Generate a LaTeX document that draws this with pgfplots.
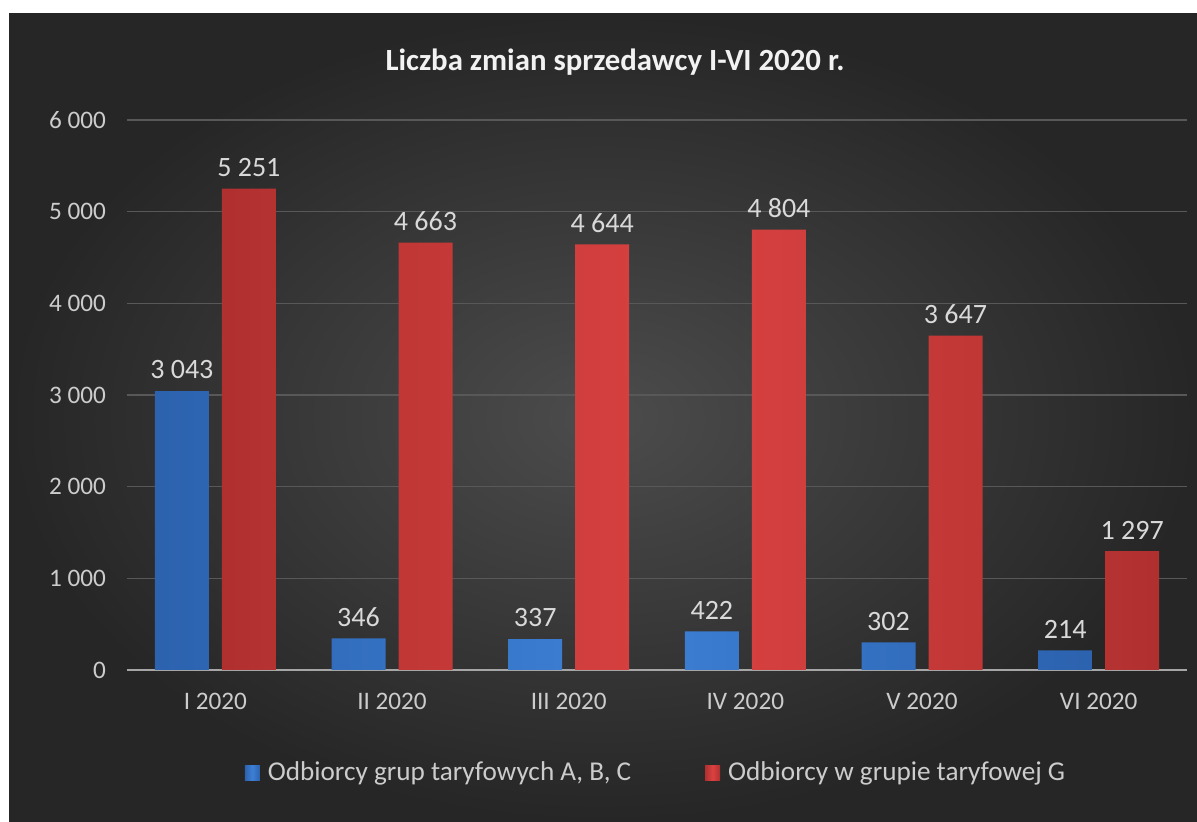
\documentclass[border=0pt]{standalone}
\usepackage{pgfplots}
\pgfplotsset{compat=1.18}
\usepackage{fontspec}
\setmainfont{Carlito}
\definecolor{bgdark}{HTML}{262626}
\definecolor{bgmid}{HTML}{4C4C4C}
\definecolor{gridcol}{HTML}{585858}
\definecolor{axcol}{HTML}{A6A6A6}
\definecolor{labelcol}{HTML}{D9D9D9}
\definecolor{ticklab}{HTML}{CCCCCC}
\definecolor{titlecol}{HTML}{F2F2F2}
\definecolor{blueedge}{HTML}{2C62AE}
\definecolor{bluemid}{HTML}{3D80D6}
\definecolor{rededge}{HTML}{B0302F}
\definecolor{redmid}{HTML}{DA4241}
\begin{document}
\begin{tikzpicture}
\useasboundingbox (0pt,0pt) rectangle (598.5pt,411pt);
\fill[white] (0pt,0pt) rectangle (598.5pt,411pt);
\shade[inner color=bgmid, outer color=bgdark] (4.5pt,0pt) rectangle (598.5pt,404pt);
\node[font=\bfseries\fontsize{15.4}{18}\selectfont, text=titlecol] at (307.5pt,380pt) {Liczba zmian sprzedawcy I-VI 2020 r.};
\begin{axis}[
  at={(63.5pt,76pt)}, anchor=south west,
  scale only axis, width=530pt, height=275pt,
  xmin=-0.5, xmax=5.5, ymin=0, ymax=6000,
  ybar=6.5pt, bar width=27pt,
  axis line style={draw=none},
  tick style={draw=none},
  major tick length=0pt,
  ymajorgrids, grid style={draw=gridcol, line width=0.6pt},
  ytick={0,1000,2000,3000,4000,5000,6000},
  scaled y ticks=false,
  extra y ticks={0}, extra y tick labels={},
  extra y tick style={grid style={draw=axcol, line width=1.3pt}},
  /pgf/number format/1000 sep={\ },
  /pgf/number format/assume math mode=true,
  xtick=data,
  xticklabels={I 2020, II 2020, III 2020, IV 2020, V 2020, VI 2020},
  xticklabel style={font=\fontsize{12.6}{15}\selectfont, text=ticklab, yshift=-8pt},
  yticklabel style={font=\fontsize{12.6}{15}\selectfont, text=ticklab, xshift=-7pt},
  nodes near coords,
  every node near coord/.append style={font=\fontsize{14}{16}\selectfont, text=labelcol, yshift=2.5pt},
  legend columns=2,
  legend style={at={(0.5,-0.187)}, anchor=center, draw=none, fill=none,
    text=ticklab, font=\fontsize{13.6}{16}\selectfont,
    /tikz/every even column/.append style={column sep=35pt},
    /tikz/every odd column/.append style={column sep=0pt}},
  legend image code/.code={\path (0pt,0pt) -- (9.5pt,0pt);\fill[#1] (0pt,-3.75pt) rectangle (7.5pt,3.75pt);},
]
\addplot[draw=none, left color=blueedge, right color=blueedge, middle color=bluemid]
  coordinates {(0,3043) (1,346) (2,337) (3,422) (4,302) (5,214)};
\addlegendentry{Odbiorcy grup taryfowych A, B, C}
\addplot[draw=none, left color=rededge, right color=rededge, middle color=redmid]
  coordinates {(0,5251) (1,4663) (2,4644) (3,4804) (4,3647) (5,1297)};
\addlegendentry{Odbiorcy w grupie taryfowej G}
\end{axis}
\end{tikzpicture}
\end{document}
